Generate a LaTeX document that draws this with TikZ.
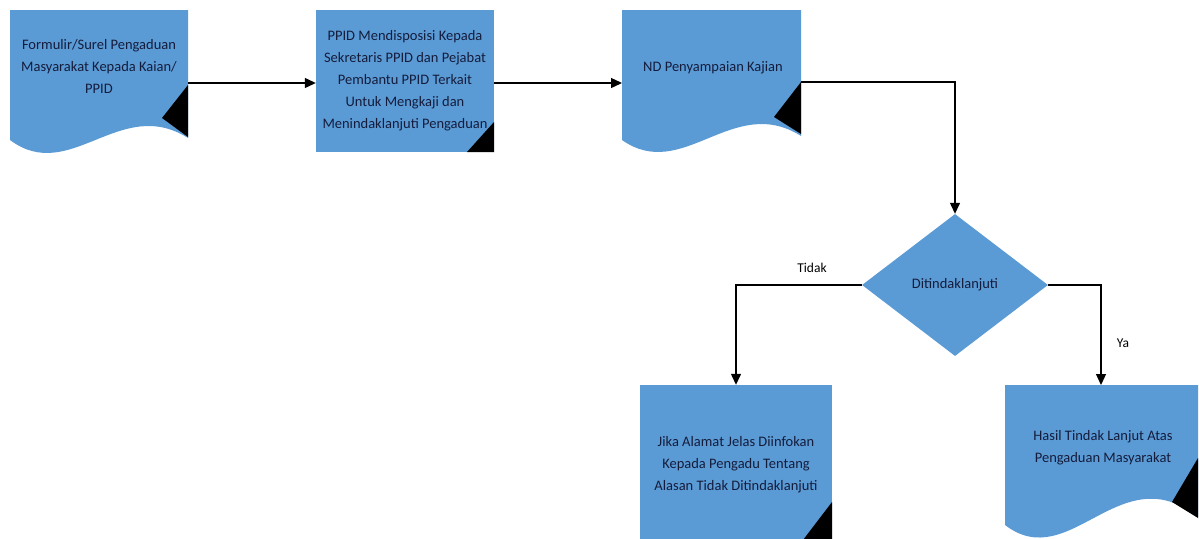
\documentclass[tikz,border=0pt]{standalone}
\usepackage{fontspec}
\setmainfont{Carlito}
\usetikzlibrary{arrows.meta,shapes.geometric}
\definecolor{boxblue}{RGB}{91,155,213}
\definecolor{boxtext}{RGB}{20,28,60}
\begin{document}
\begin{tikzpicture}[x=1pt,y=-1pt,
  shapefill/.style={fill=boxblue,draw=none},
  curl/.style={fill=black,draw=none},
  lbl/.style={text=boxtext,align=center,inner sep=0pt,font=\fontsize{14.5}{22}\selectfont},
  procbox/.style={shapefill,rectangle,text=boxtext,align=center,inner sep=0pt,font=\fontsize{14.5}{22}\selectfont},
  decision/.style={shapefill,diamond,text=boxtext,inner sep=0pt,font=\fontsize{14.5}{22}\selectfont},
  arr/.style={draw=black,line width=1.3pt,-{Triangle[length=11pt,width=10pt]}},
  edgelbl/.style={text=black,inner sep=0pt,font=\fontsize{13.5}{16}\selectfont}]
\useasboundingbox (0,0) rectangle (1199,538);
\clip (0,0) rectangle (1199,538);

% Box 1 (document)
\fill[boxblue] (10,10) -- (188,10) -- (188,138) .. controls (120,95) and (70,185) .. (10,140) -- cycle;
\node[lbl] (t1) at (99,66) {Formulir/Surel Pengaduan\\Masyarakat Kepada Kaian/\\PPID};
\fill[curl] (188,85) -- (162,118) -- (188,137) -- cycle;
\coordinate (b1e) at (188,83);

% Box 2 (process)
\node[procbox,minimum width=178pt,minimum height=142pt] (b2) at (405,81)
  {PPID Mendisposisi Kepada\\Sekretaris PPID dan Pejabat\\Pembantu PPID Terkait\\Untuk Mengkaji dan\\Menindaklanjuti Pengaduan};
\fill[curl] (494,122) -- (467,152) -- (494,152) -- cycle;

% Box 3 (document)
\fill[boxblue] (622,10) -- (801,10) -- (801,136) .. controls (733,93) and (683,183) .. (622,140) -- cycle;
\node[lbl] (t3) at (713,68) {ND Penyampaian Kajian};
\fill[curl] (801,82) -- (774,117) -- (801,134) -- cycle;
\coordinate (b3w) at (622,83);
\coordinate (b3e) at (801,82);

% Decision
\node[decision,minimum width=186pt,minimum height=142pt] (d) at (955,285) {Ditindaklanjuti};

% Box 4 (process, cut by page)
\node[procbox,minimum width=192pt,minimum height=160pt] (b4) at (736,465)
  {Jika Alamat Jelas Diinfokan\\Kepada Pengadu Tentang\\Alasan Tidak Ditindaklanjuti};
\fill[curl] (832,502) -- (803,540) -- (832,540) -- cycle;

% Box 5 (document, cut by page)
\fill[boxblue] (1005,385) -- (1198,385) -- (1198,517) .. controls (1120,455) and (1070,575) .. (1005,525) -- cycle;
\node[lbl] (t5) at (1103,448) {Hasil Tindak Lanjut Atas\\Pengaduan Masyarakat};
\fill[curl] (1198,458) -- (1172,502) -- (1198,518) -- cycle;
\coordinate (b5n) at (1101,385);

% Connectors
\draw[arr] (b1e) -- (b1e -| b2.west);
\draw[arr] (b2.east |- b3w) -- (b3w);
\draw[arr] (b3e) -| (d.north);
\draw[arr] (d.west) -| (b4.north);
\draw[arr] (d.east) -| (b5n);

% Edge labels
\node[edgelbl] (ltidak) at (812,268) {Tidak};
\node[edgelbl] (lya) at (1123,343) {Ya};
\end{tikzpicture}
\end{document}
